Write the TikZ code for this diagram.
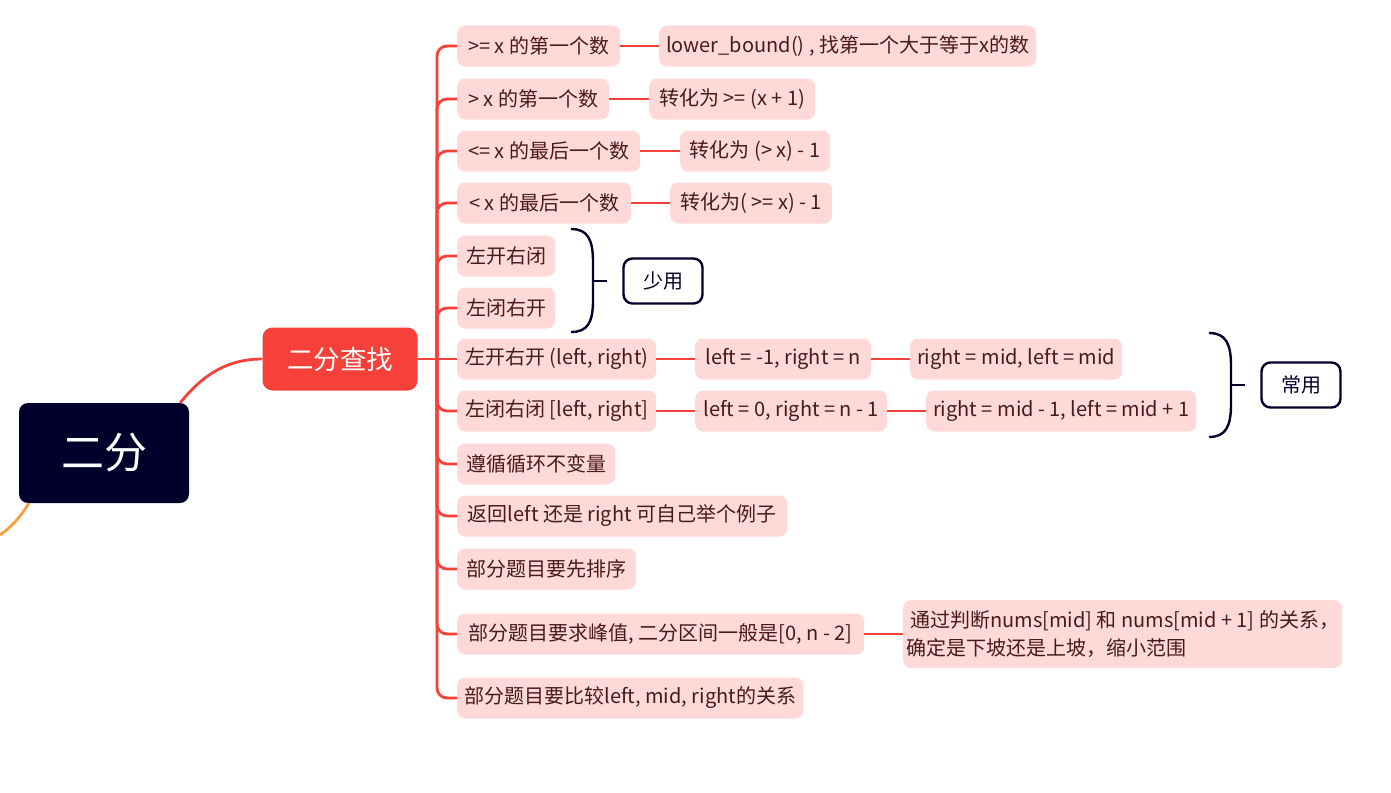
\documentclass[tikz,border=0pt]{standalone}
\usepackage{fontspec}
\setmainfont{Noto Sans CJK SC}
\definecolor{navy}{HTML}{00002A}
\definecolor{redm}{HTML}{F5413A}
\definecolor{pinkf}{HTML}{FED9D8}
\definecolor{txtc}{HTML}{4A1A1A}
\definecolor{orng}{HTML}{F5A142}
\tikzset{
  leaf/.style={fill=pinkf, rounded corners=8pt, text=txtc, anchor=west,
    minimum height=41pt, inner xsep=7pt, inner ysep=0pt,
    font=\fontsize{20}{24}\selectfont},
  branch/.style={draw=redm, line width=2.8pt, rounded corners=10pt},
  summ/.style={draw=navy, line width=2.4pt, fill=white, rounded corners=9pt,
    minimum width=79pt, minimum height=45pt, text=navy,
    font=\fontsize{20}{24}\selectfont},
  bracel/.style={draw=navy, line width=2.4pt},
}
\begin{document}
\begin{tikzpicture}[x=1pt,y=-1pt]
\useasboundingbox (0,0) rectangle (1391,792);
% root
\node[fill=navy, rounded corners=9pt, minimum width=170pt, minimum height=100pt,
  text=white, font=\fontsize{43}{47}\selectfont] (root) at (104,453) {二分};
\node[fill=redm, rounded corners=10pt, minimum width=155pt, minimum height=63pt,
  text=white, font=\fontsize{26.5}{30}\selectfont] (main) at (340,359) {二分查找};
\coordinate (off) at (0,535);
\draw[draw=orng, line width=2.8pt] ([xshift=10pt]root.south west) .. controls (20,518) and (10,528) .. (off);
\draw[draw=redm, line width=2.8pt] ([xshift=-9pt]root.north east) .. controls (205,372) and (230,359) .. (main.west);
% children
\node[leaf, minimum width=163pt] (c1) at (457,46) {>= x 的第一个数};
\node[leaf, minimum width=374pt] (g1) at (659,46) {lower\_bound() , 找第一个大于等于x的数};
\node[leaf, minimum width=152pt] (c2) at (457,99) {> x 的第一个数};
\node[leaf, minimum width=166pt] (g2) at (649,99) {转化为 >= (x + 1)};
\node[leaf, minimum width=183pt] (c3) at (457,151) {<= x 的最后一个数};
\node[leaf, minimum width=150pt] (g3) at (680,151) {转化为 (> x) - 1};
\node[leaf, minimum width=174pt] (c4) at (457,203) {< x 的最后一个数};
\node[leaf, minimum width=162pt] (g4) at (670,203) {转化为( >= x) - 1};
\node[leaf, minimum width=98pt] (c5) at (457,256) {左开右闭};
\node[leaf, minimum width=98pt] (c6) at (457,308) {左闭右开};
\node[leaf, minimum width=199pt] (c7) at (457,359) {左开右开 (left, right)};
\node[leaf, minimum width=176pt] (g7) at (695,359) {left = -1, right = n};
\node[leaf, minimum width=209pt] (h7) at (910,359) {right = mid, left = mid};
\node[leaf, minimum width=199pt] (c8) at (457,411) {左闭右闭 [left, right]};
\node[leaf, minimum width=192pt] (g8) at (695,411) {left = 0, right = n - 1};
\node[leaf, minimum width=267pt] (h8) at (926,411) {right = mid - 1, left = mid + 1};
\node[leaf, minimum width=158pt] (c9) at (457,464) {遵循循环不变量};
\node[leaf, minimum width=330pt] (c10) at (457,516) {返回left 还是 right 可自己举个例子};
\node[leaf, minimum width=179pt] (c11) at (457,569) {部分题目要先排序};
\node[leaf, minimum width=407pt] (c12) at (457,634) {部分题目要求峰值, 二分区间一般是[0, n - 2]};
\node[leaf, minimum width=439pt, minimum height=68pt, align=left, inner xsep=3pt,
  font=\fontsize{20}{28}\selectfont] (g12) at (903,634)
  {\hspace*{0.2em}通过判断nums[mid] 和 nums[mid + 1] 的关系，\\确定是下坡还是上坡，缩小范围};
\node[leaf, minimum width=346pt] (c13) at (457,698) {部分题目要比较left, mid, right的关系};
% summaries
\node[summ] (s1) at (663,281) {少用};
\node[summ] (s2) at (1301,385) {常用};
% trunk connectors
\coordinate (tr) at (437,359);
\draw[branch] (main.east) -- (c7.west);
\foreach \c in {c1,c2,c3,c4,c5,c6,c8,c9,c10,c11,c12,c13}
  \draw[branch] (tr) |- (\c.west);
% second level
\draw[branch] (c1.east) -- (g1.west);
\draw[branch] (c2.east) -- (g2.west);
\draw[branch] (c3.east) -- (g3.west);
\draw[branch] (c4.east) -- (g4.west);
\draw[branch] (c7.east) -- (g7.west);
\draw[branch] (g7.east) -- (h7.west);
\draw[branch] (c8.east) -- (g8.west);
\draw[branch] (g8.east) -- (h8.west);
\draw[branch] (c12.east) -- (g12.west);
% braces
\coordinate (b1t) at (571,229);
\coordinate (b1b) at (571,332);
\coordinate (b1m) at (593,281);
\coordinate (b1k) at (607,281);
\draw[bracel] (b1t) .. controls (588,229) and (593,240) .. (593,262) -- (593,300)
  .. controls (593,322) and (588,332) .. (b1b);
\draw[bracel] (b1m) -- (b1k);
\coordinate (b2t) at (1209,333);
\coordinate (b2b) at (1209,437);
\coordinate (b2m) at (1231,385);
\coordinate (b2k) at (1245,385);
\draw[bracel] (b2t) .. controls (1226,333) and (1231,344) .. (1231,366) -- (1231,404)
  .. controls (1231,426) and (1226,437) .. (b2b);
\draw[bracel] (b2m) -- (b2k);
\end{tikzpicture}
\end{document}
